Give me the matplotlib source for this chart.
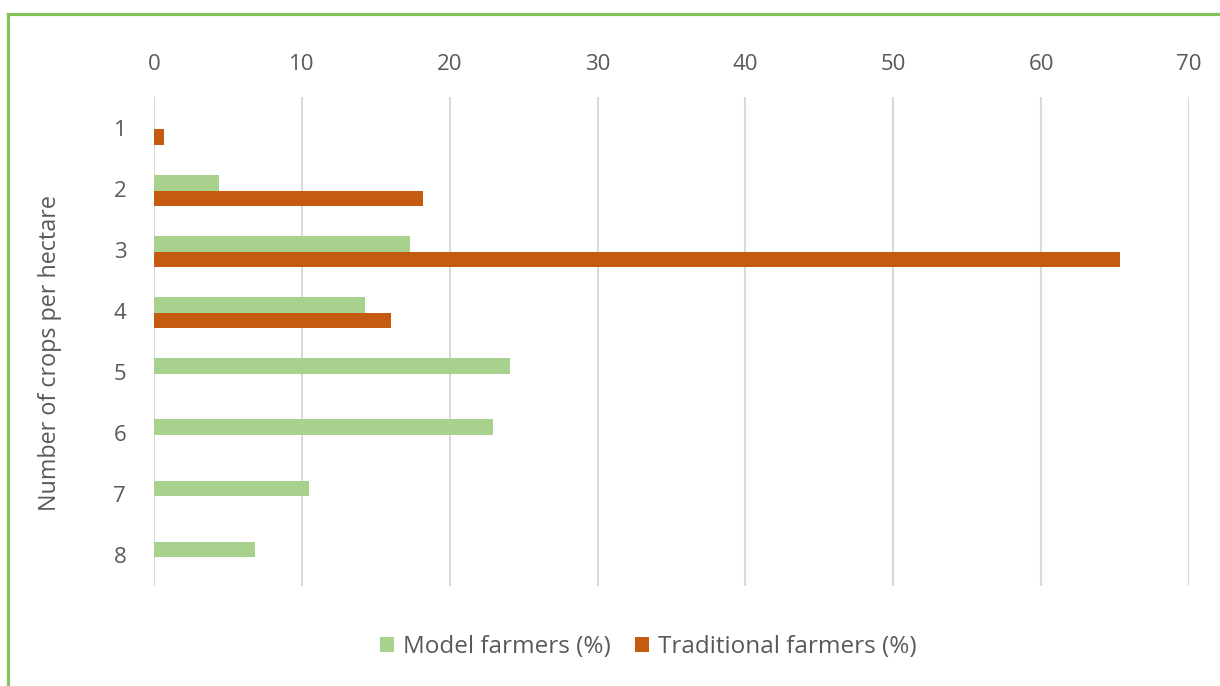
import matplotlib
matplotlib.use("Agg")
import matplotlib.pyplot as plt
from matplotlib.lines import Line2D
from matplotlib.patches import Patch
import numpy as np

crops = ["1", "2", "3", "4", "5", "6", "7", "8"]
model_farmers = [0, 4.4, 17.3, 14.3, 24.1, 22.9, 10.5, 6.8]
traditional_farmers = [0.7, 18.2, 65.3, 16.0, 0, 0, 0, 0]
x_ticks = [0, 10, 20, 30, 40, 50, 60, 70]

green = "#a9d18e"
orange = "#c55a11"
text_col = "#595959"
grid_col = "#d9d9d9"

plt.rcParams["font.family"] = ["Open Sans", "DejaVu Sans"]

fig = plt.figure(figsize=(12.2, 6.86), dpi=100)
ax = fig.add_axes([154 / 1220, 1 - 586 / 686, (1189 - 154) / 1220, (586 - 97) / 686])

pos = np.arange(len(crops))
h = 0.255
ax.barh(pos - h / 2 + 0.03, model_farmers, height=h, color=green, zorder=3)
ax.barh(pos + h / 2 + 0.03, traditional_farmers, height=h, color=orange, zorder=3)

ax.set_xlim(0, 70)
ax.set_ylim(len(crops) - 0.5, -0.5)
ax.set_xticks(x_ticks)
ax.set_yticks(pos)
ax.set_yticklabels(crops)
ax.xaxis.tick_top()
ax.tick_params(axis="both", length=0, labelsize=16, labelcolor=text_col)
ax.tick_params(axis="x", pad=16)
ax.tick_params(axis="y", pad=20)
ax.grid(axis="x", color=grid_col, linewidth=1.5, zorder=0)
ax.set_axisbelow(True)
for s in ax.spines.values():
    s.set_visible(False)

fig.text(50 / 1220, 1 - 353 / 686, "Number of crops per hectare", rotation=90,
         ha="center", va="center", fontsize=16.8, color=text_col)

handles = [Patch(facecolor=green, label="Model farmers (%)"),
           Patch(facecolor=orange, label="Traditional farmers (%)")]
fig.legend(handles=handles, loc="center", bbox_to_anchor=(648 / 1220, 1 - 647 / 686),
           ncol=2, frameon=False, prop={"size": 17.5}, labelcolor=text_col,
           handlelength=0.6, handleheight=0.6, handletextpad=0.35, columnspacing=1.0)

# green frame: left and top edges
border = "#84c25a"
fig.add_artist(Line2D([8 / 1220, 8 / 1220], [0, 1 - 14 / 686], transform=fig.transFigure,
                      color=border, linewidth=2.3))
fig.add_artist(Line2D([8 / 1220, 1], [1 - 14 / 686, 1 - 14 / 686], transform=fig.transFigure,
                      color=border, linewidth=2.3))

fig.savefig("out.png", dpi=100)
